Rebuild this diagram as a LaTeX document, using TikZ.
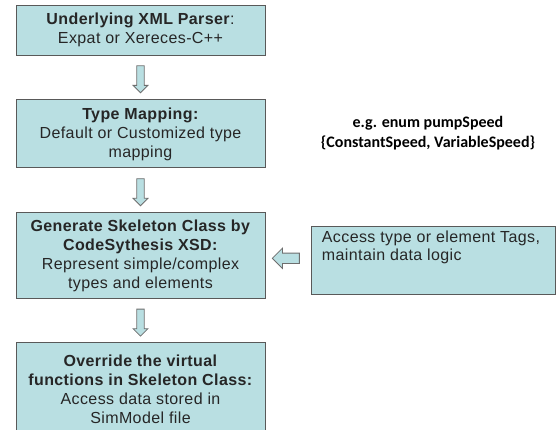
\documentclass[tikz,border=0pt]{standalone}
\usepackage{fontspec}
\setmainfont{Liberation Sans}[LetterSpace=2.5]
\newfontfamily\notefont{Carlito}
\usetikzlibrary{positioning,shapes.arrows,calc}
\definecolor{boxfill}{HTML}{B9DFE2}
\definecolor{boxline}{HTML}{595959}
\definecolor{arrowline}{HTML}{6E6E6E}
\definecolor{ink}{HTML}{262626}

\begin{document}
\begin{tikzpicture}[
    x=1pt, y=-1pt,
    node distance=44pt and 46pt,
    stage/.style={draw=boxline, fill=boxfill, line width=0.9pt, minimum width=249pt, align=center, inner sep=0pt, text=ink, font=\fontsize{16}{19}\selectfont},
    sidebox/.style={draw=boxline, fill=boxfill, line width=0.9pt, inner xsep=10pt, inner ysep=4pt, text=ink, font=\fontsize{16}{18.5}\selectfont},
    note/.style={align=center, font=\notefont\bfseries\fontsize{16}{20}\selectfont},
    downflow/.style={single arrow, draw=arrowline, fill=boxfill, line width=0.8pt, inner sep=3.3pt, single arrow head extend=3.7pt, minimum height=27pt, shape border rotate=270},
    leftflow/.style={single arrow, draw=arrowline, fill=boxfill, line width=0.8pt, inner sep=4.8pt, single arrow head extend=5pt, minimum height=27pt, shape border rotate=180}
  ]
    \useasboundingbox (0,0) rectangle (556,430);

    \node[stage, minimum height=50pt] (parser) at (140.5,30) {\textbf{Underlying XML Parser}:\\Expat or Xereces-C++};
    \node[stage, minimum height=68pt, below=of parser] (mapping) {\textbf{Type Mapping:}\\Default or Customized type\\mapping};
    \node[stage, minimum height=86pt, below=of mapping] (skeleton) {\textbf{Generate Skeleton Class by}\\\textbf{CodeSythesis XSD:}\\Represent simple/complex\\types and elements};
    \node[stage, minimum height=94pt, below=43pt of skeleton] (override) {\textbf{Override the virtual}\\\textbf{functions in Skeleton Class:}\\Access data stored in\\SimModel file};
    \node[sidebox, right=of skeleton, yshift=-5pt] (tags) {\parbox[c][60pt][t]{224pt}{\raggedright Access type or element Tags,\\maintain data logic}};
    \node[note] (example) at (428,133) {e.g. enum pumpSpeed\\\{ConstantSpeed, VariableSpeed\}};

    \node[downflow] (a1) at ($(parser.south)!0.5!(mapping.north)$) {};
    \node[downflow] (a2) at ($(mapping.south)!0.5!(skeleton.north)$) {};
    \node[downflow] (a3) at ($(skeleton.south)!0.5!(override.north)$) {};
    \node[leftflow] (a4) at ($(skeleton.east)!0.5!(tags.west)$) {};
\end{tikzpicture}
\end{document}
